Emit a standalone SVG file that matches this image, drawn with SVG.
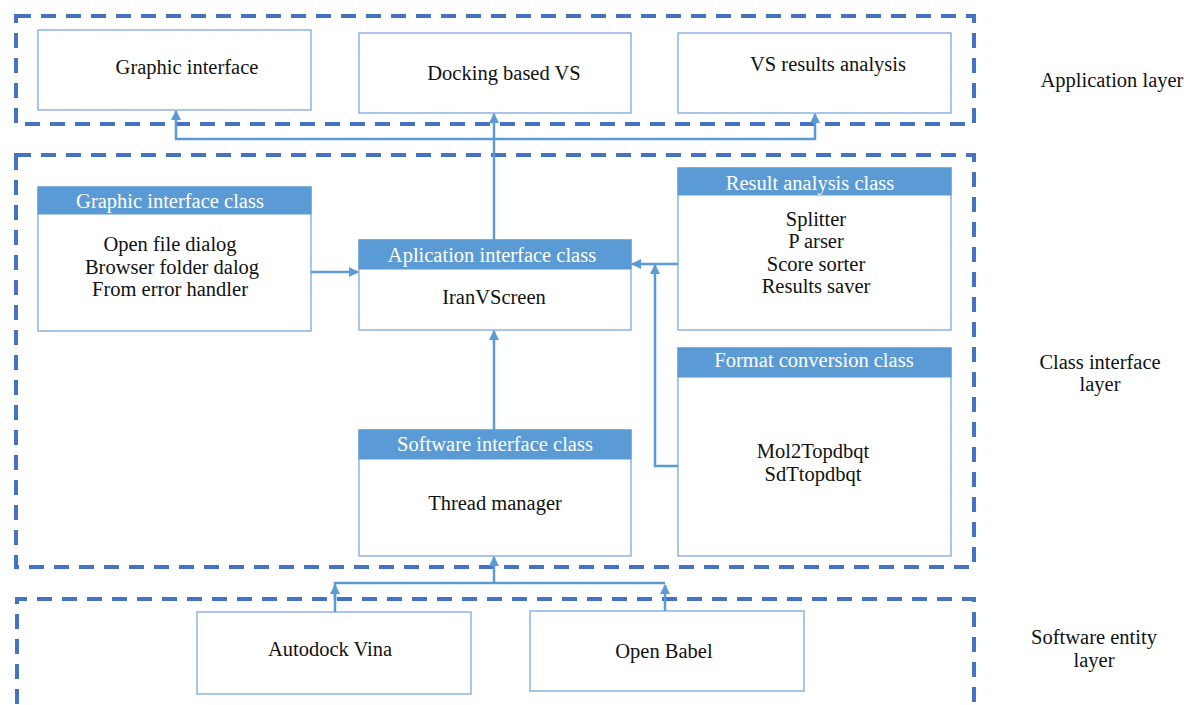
<svg xmlns="http://www.w3.org/2000/svg" width="1184" height="705" viewBox="0 0 1184 705">
<defs>
<style>
.layer{fill:none;stroke:#4472c4;stroke-width:4;stroke-dasharray:15 10}
.box{fill:#fff;stroke:#8db3e2;stroke-width:1.5}
.hdr{fill:#5b9bd5;stroke:#5b9bd5;stroke-width:1}
.t{font-family:"Liberation Serif",serif;font-size:20.5px;fill:#111;text-anchor:middle}
.h{font-family:"Liberation Serif",serif;font-size:20.5px;fill:#fff;text-anchor:middle}
.c{fill:none;stroke:#5b9bd5;stroke-width:2.5}
</style>
<marker id="ar" viewBox="0 0 10 10" refX="9" refY="5" markerWidth="4" markerHeight="4" orient="auto" markerUnits="strokeWidth">
<path d="M0,0 L10,5 L0,10 z" fill="#5b9bd5"/>
</marker>
</defs>
<rect width="1184" height="705" fill="#fff"/>
<g id="layers">
<rect class="layer" x="16" y="16" width="958" height="108"/>
<rect class="layer" x="16" y="155" width="958" height="412"/>
<path class="layer" d="M17,704 L17,599 L974,599 L974,704"/>
</g>
<g id="layer-labels">
<text class="t" x="1112" y="87">Application layer</text>
<text class="t" x="1100" y="369">Class interface</text>
<text class="t" x="1100" y="391">layer</text>
<text class="t" x="1094" y="644">Software entity</text>
<text class="t" x="1094" y="667">layer</text>
</g>
<g id="graphic-interface">
<rect class="box" x="38" y="30" width="273" height="80"/>
<text class="t" x="187" y="74">Graphic interface</text>
</g>
<g id="docking-vs">
<rect class="box" x="359" y="33" width="272" height="80"/>
<text class="t" x="504" y="80">Docking based VS</text>
</g>
<g id="vs-results">
<rect class="box" x="678" y="33" width="273" height="80"/>
<text class="t" x="828" y="71">VS results analysis</text>
</g>
<g id="graphic-interface-class">
<rect class="box" x="38" y="187" width="273" height="144"/>
<rect class="hdr" x="38" y="187" width="273" height="27"/>
<text class="h" x="170" y="208">Graphic interface class</text>
<text class="t" x="170" y="251">Open file dialog</text>
<text class="t" x="172" y="274">Browser folder dalog</text>
<text class="t" x="170" y="296">From error handler</text>
</g>
<g id="application-interface-class">
<rect class="box" x="359" y="240" width="272" height="90"/>
<rect class="hdr" x="359" y="240" width="272" height="29"/>
<text class="h" x="492" y="262">Aplication interface class</text>
<text class="t" x="494" y="304">IranVScreen</text>
</g>
<g id="result-analysis-class">
<rect class="box" x="678" y="168" width="273" height="162"/>
<rect class="hdr" x="678" y="168" width="273" height="27"/>
<text class="h" x="810" y="190">Result analysis class</text>
<text class="t" x="816" y="226">Splitter</text>
<text class="t" x="816" y="248">P arser</text>
<text class="t" x="816" y="271">Score sorter</text>
<text class="t" x="816" y="293">Results saver</text>
</g>
<g id="format-conversion-class">
<rect class="box" x="678" y="348" width="273" height="208"/>
<rect class="hdr" x="678" y="348" width="273" height="29"/>
<text class="h" x="814" y="367">Format conversion class</text>
<text class="t" x="813" y="458">Mol2Topdbqt</text>
<text class="t" x="813" y="481">SdTtopdbqt</text>
</g>
<g id="software-interface-class">
<rect class="box" x="359" y="430" width="272" height="126"/>
<rect class="hdr" x="359" y="430" width="272" height="29"/>
<text class="h" x="495" y="451">Software interface class</text>
<text class="t" x="495" y="510">Thread manager</text>
</g>
<g id="autodock-vina">
<rect class="box" x="197" y="612" width="274" height="82"/>
<text class="t" x="330" y="656">Autodock Vina</text>
</g>
<g id="open-babel">
<rect class="box" x="530" y="611" width="274" height="80"/>
<text class="t" x="664" y="658">Open Babel</text>
</g>
<g id="connectors">
<path class="c" d="M494,240 L494,114" marker-end="url(#ar)"/>
<path class="c" d="M494,139 L176,139 L176,111" marker-end="url(#ar)"/>
<path class="c" d="M494,139 L815,139 L815,114" marker-end="url(#ar)"/>
<path class="c" d="M311,272 L358,272" marker-end="url(#ar)"/>
<path class="c" d="M678,264 L632,264" marker-end="url(#ar)"/>
<path class="c" d="M678,466 L655,466 L655,265" marker-end="url(#ar)"/>
<path class="c" d="M494,430 L494,331" marker-end="url(#ar)"/>
<path class="c" d="M494,583 L494,557" marker-end="url(#ar)"/>
<path class="c" d="M335,612 L335,583 L665,583"/>
<path class="c" d="M665,611 L665,585" marker-end="url(#ar)"/>
<path class="c" d="M335,600 L335,585" marker-end="url(#ar)"/>
</g>
</svg>
